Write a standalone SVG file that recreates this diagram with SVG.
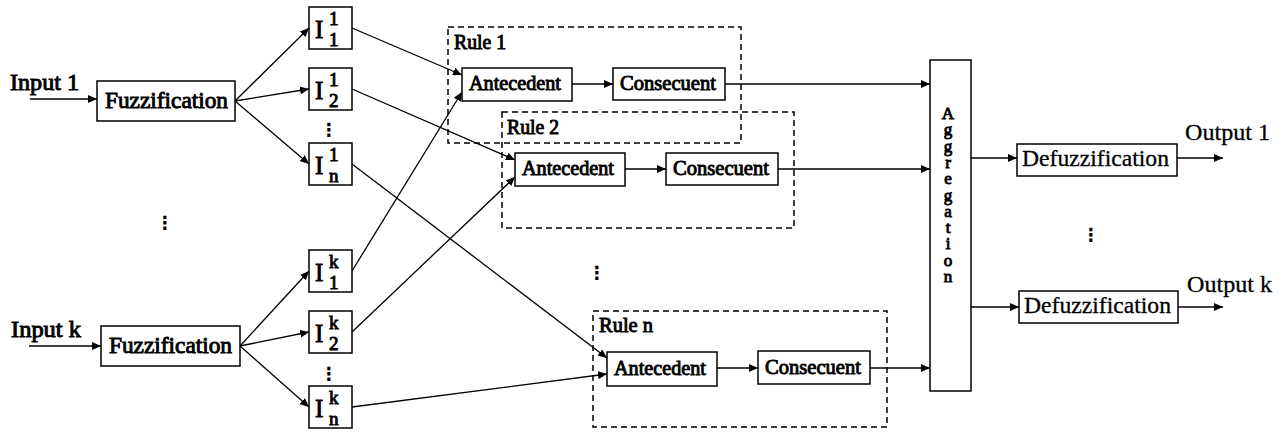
<svg xmlns="http://www.w3.org/2000/svg" width="1284" height="432" viewBox="0 0 1284 432">
<style>
.bx{fill:#fff;stroke:#000;stroke-width:1.5}
.rule{fill:none;stroke:#000;stroke-width:1.5;stroke-dasharray:6 4}
.ln{fill:none;stroke:#000;stroke-width:1.3;marker-end:url(#ah)}
.t{font-family:"Liberation Serif","Times New Roman",serif;font-weight:normal;fill:#000;stroke:#000;stroke-width:0.9}
.r{font-family:"Liberation Serif","Times New Roman",serif;font-weight:normal;fill:#000;stroke:#000;stroke-width:0.3}
.m{text-anchor:middle}
.vert{writing-mode:vertical-rl;text-orientation:upright;letter-spacing:-2.7px}
.dots{font-family:"DejaVu Sans",sans-serif;font-size:18px;font-weight:bold;text-anchor:middle;fill:#000}
</style>
<defs>
<marker id="ah" markerUnits="userSpaceOnUse" markerWidth="10" markerHeight="8" refX="9" refY="4" orient="auto">
<path d="M0,0 L9,4 L0,8 Z" fill="#000"/>
</marker>
</defs>
<rect width="1284" height="432" fill="#fff"/>

<g id="connectors">
<line class="ln" x1="30" y1="99" x2="97" y2="99"/>
<line class="ln" x1="29" y1="346" x2="101" y2="346"/>
<line class="ln" x1="235" y1="101" x2="309" y2="28"/>
<line class="ln" x1="235" y1="101" x2="309" y2="89"/>
<line class="ln" x1="235" y1="101" x2="309" y2="164"/>
<line class="ln" x1="240" y1="346" x2="309" y2="271"/>
<line class="ln" x1="240" y1="346" x2="309" y2="332"/>
<line class="ln" x1="240" y1="346" x2="309" y2="407"/>
<line class="ln" x1="352" y1="28" x2="462" y2="75"/>
<line class="ln" x1="352" y1="89" x2="515" y2="160"/>
<line class="ln" x1="352" y1="164" x2="607" y2="358"/>
<line class="ln" x1="352" y1="271" x2="462" y2="92"/>
<line class="ln" x1="352" y1="332" x2="515" y2="177"/>
<line class="ln" x1="352" y1="407" x2="607" y2="374"/>
<line class="ln" x1="572" y1="84" x2="613" y2="84"/>
<line class="ln" x1="725" y1="84" x2="930" y2="84"/>
<line class="ln" x1="625" y1="169" x2="666" y2="169"/>
<line class="ln" x1="778" y1="169" x2="930" y2="169"/>
<line class="ln" x1="717" y1="368" x2="758" y2="368"/>
<line class="ln" x1="870" y1="368" x2="930" y2="368"/>
<line class="ln" x1="971" y1="158" x2="1017" y2="158"/>
<line class="ln" x1="1177" y1="158" x2="1223" y2="158"/>
<line class="ln" x1="971" y1="307" x2="1019" y2="307"/>
<line class="ln" x1="1178" y1="307" x2="1223" y2="307"/>
</g>

<g id="input1"><text class="t" x="10" y="90" font-size="23" textLength="69" lengthAdjust="spacingAndGlyphs">Input 1</text></g>
<g id="inputk"><text class="t" x="11" y="337" font-size="23" textLength="70" lengthAdjust="spacingAndGlyphs">Input k</text></g>

<g id="fuzz1"><rect class="bx" x="97" y="81" width="138" height="40"/><text class="t" x="105" y="108" font-size="23" textLength="123" lengthAdjust="spacingAndGlyphs">Fuzzification</text></g>
<g id="fuzzk"><rect class="bx" x="101" y="326" width="139" height="40"/><text class="t" x="109" y="353" font-size="23" textLength="123" lengthAdjust="spacingAndGlyphs">Fuzzification</text></g>

<g id="I11"><rect class="bx" x="309" y="7" width="43" height="42"/><text class="t" x="315" y="38" font-size="25">I</text><text class="t" x="329" y="25" font-size="19">1</text><text class="t" x="329" y="46" font-size="19">1</text></g>
<g id="I12"><rect class="bx" x="309" y="68" width="43" height="42"/><text class="t" x="315" y="99" font-size="25">I</text><text class="t" x="329" y="86" font-size="19">1</text><text class="t" x="329" y="107" font-size="19">2</text></g>
<g id="I1n"><rect class="bx" x="309" y="143" width="43" height="42"/><text class="t" x="315" y="174" font-size="25">I</text><text class="t" x="329" y="161" font-size="19">1</text><text class="t" x="329" y="182" font-size="19">n</text></g>
<g id="Ik1"><rect class="bx" x="309" y="250" width="43" height="42"/><text class="t" x="315" y="281" font-size="25">I</text><text class="t" x="329" y="268" font-size="19">k</text><text class="t" x="329" y="289" font-size="19">1</text></g>
<g id="Ik2"><rect class="bx" x="309" y="311" width="43" height="42"/><text class="t" x="315" y="342" font-size="25">I</text><text class="t" x="329" y="329" font-size="19">k</text><text class="t" x="329" y="350" font-size="19">2</text></g>
<g id="Ikn"><rect class="bx" x="309" y="386" width="43" height="42"/><text class="t" x="315" y="417" font-size="25">I</text><text class="t" x="329" y="404" font-size="19">k</text><text class="t" x="329" y="425" font-size="19">n</text></g>

<g id="dots">
<text class="dots" x="329" y="136">⋮</text>
<text class="dots" x="329" y="380">⋮</text>
<text class="dots" x="165" y="229">⋮</text>
<text class="dots" x="597" y="279">⋮</text>
<text class="dots" x="1091" y="241">⋮</text>
</g>

<g id="rule1">
<rect class="rule" x="448" y="27" width="293" height="116"/>
<text class="t" x="454" y="49" font-size="20" textLength="52" lengthAdjust="spacingAndGlyphs">Rule 1</text>
</g>
<g id="ant1"><rect class="bx" x="462" y="68" width="110" height="33"/><text class="t" x="469" y="90" font-size="20" textLength="92" lengthAdjust="spacingAndGlyphs">Antecedent</text></g>
<g id="con1"><rect class="bx" x="613" y="68" width="112" height="32"/><text class="t" x="620" y="90" font-size="20" textLength="96" lengthAdjust="spacingAndGlyphs">Consecuent</text></g>

<g id="rule2">
<rect class="rule" x="502" y="112" width="292" height="116"/>
<text class="t" x="507" y="134" font-size="20" textLength="52" lengthAdjust="spacingAndGlyphs">Rule 2</text>
</g>
<g id="ant2"><rect class="bx" x="515" y="153" width="110" height="33"/><text class="t" x="522" y="175" font-size="20" textLength="92" lengthAdjust="spacingAndGlyphs">Antecedent</text></g>
<g id="con2"><rect class="bx" x="666" y="153" width="112" height="32"/><text class="t" x="673" y="175" font-size="20" textLength="96" lengthAdjust="spacingAndGlyphs">Consecuent</text></g>

<g id="rulen">
<rect class="rule" x="593" y="311" width="294" height="116"/>
<text class="t" x="599" y="332" font-size="20" textLength="54" lengthAdjust="spacingAndGlyphs">Rule n</text>
</g>
<g id="antn"><rect class="bx" x="607" y="352" width="110" height="34"/><text class="t" x="614" y="375" font-size="20" textLength="92" lengthAdjust="spacingAndGlyphs">Antecedent</text></g>
<g id="conn"><rect class="bx" x="758" y="351" width="112" height="33"/><text class="t" x="765" y="374" font-size="20" textLength="96" lengthAdjust="spacingAndGlyphs">Consecuent</text></g>

<g id="aggregation">
<rect class="bx" x="930" y="60" width="41" height="331"/>
<text class="t vert" x="948" y="104" font-size="17">Aggregation</text>
</g>

<g id="defuzz1"><rect class="bx" x="1017" y="144" width="160" height="32"/><text class="r" x="1022" y="166" font-size="23" textLength="147" lengthAdjust="spacingAndGlyphs">Defuzzification</text></g>
<g id="defuzzk"><rect class="bx" x="1019" y="291" width="159" height="32"/><text class="r" x="1024" y="313" font-size="23" textLength="147" lengthAdjust="spacingAndGlyphs">Defuzzification</text></g>
<g id="output1"><text class="r" x="1185" y="140" font-size="23" textLength="85" lengthAdjust="spacingAndGlyphs">Output 1</text></g>
<g id="outputk"><text class="r" x="1187" y="292" font-size="23" textLength="85" lengthAdjust="spacingAndGlyphs">Output k</text></g>
</svg>
